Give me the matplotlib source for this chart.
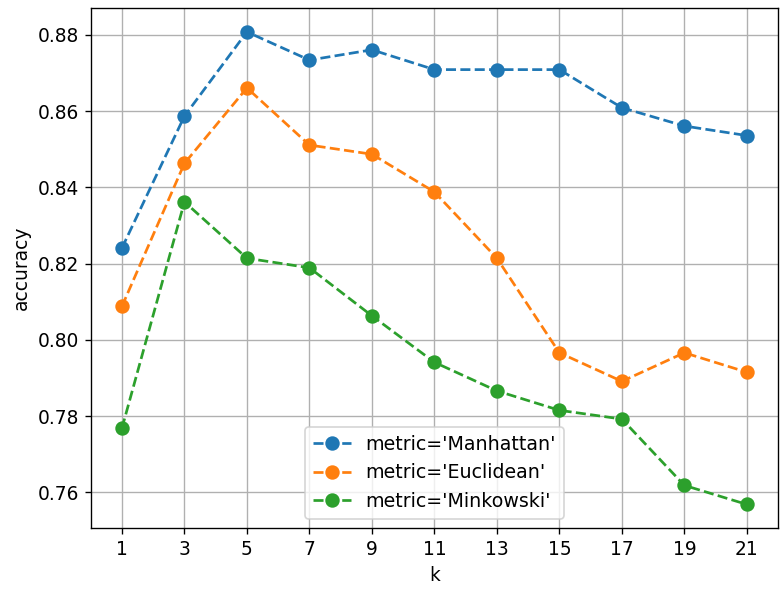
import matplotlib
matplotlib.use('Agg')
import matplotlib.pyplot as plt

k_values = [1, 3, 5, 7, 9, 11, 13, 15, 17, 19, 21]
manhattan = [0.8241, 0.8587, 0.8808, 0.8734, 0.8761, 0.8709, 0.8709, 0.8709, 0.8609, 0.8561, 0.8536]
euclidean = [0.8088, 0.8463, 0.8661, 0.8511, 0.8487, 0.8388, 0.8214, 0.7966, 0.7891, 0.7966, 0.7915]
minkowski = [0.7768, 0.8362, 0.8214, 0.8189, 0.8063, 0.7941, 0.7866, 0.7815, 0.7792, 0.7618, 0.7568]

series = [("metric='Manhattan'", manhattan),
          ("metric='Euclidean'", euclidean),
          ("metric='Minkowski'", minkowski)]

plt.rcParams['font.size'] = 11

fig, ax = plt.subplots(figsize=(782 / 122, 590 / 122), dpi=122)
fig.subplots_adjust(left=0.116, right=0.995, top=0.986, bottom=0.105)

for label, values in series:
    ax.plot(k_values, values, 'o--', label=label, markersize=7.5, linewidth=1.6)

ax.set_xticks(k_values)
ax.set_xlabel('k')
ax.set_ylabel('accuracy')
ax.grid(True)
ax.legend(loc='lower center', fontsize=11.2)

fig.savefig('out.png', dpi=122)
